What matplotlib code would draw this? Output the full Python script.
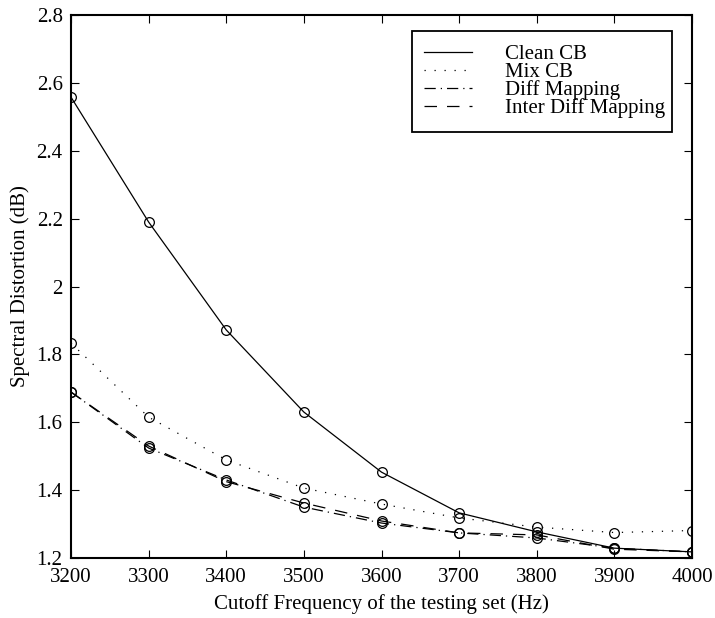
import matplotlib
matplotlib.use("Agg")
import matplotlib.pyplot as plt
from matplotlib.patches import Rectangle

plt.rcParams['font.family'] = ['Liberation Serif', 'DejaVu Serif']

freq = [3200, 3300, 3400, 3500, 3600, 3700, 3800, 3900, 4000]
clean_cb = [2.558, 2.19, 1.872, 1.630, 1.453, 1.333, 1.277, 1.229, 1.218]
mix_cb = [1.833, 1.615, 1.489, 1.406, 1.359, 1.318, 1.291, 1.275, 1.281]
diff_mapping = [1.689, 1.524, 1.430, 1.350, 1.303, 1.274, 1.259, 1.229, 1.218]
inter_diff_mapping = [1.689, 1.530, 1.425, 1.362, 1.309, 1.274, 1.268, 1.226, 1.218]

xticks = [3200, 3300, 3400, 3500, 3600, 3700, 3800, 3900, 4000]
yticks = [1.2, 1.4, 1.6, 1.8, 2.0, 2.2, 2.4, 2.6, 2.8]
ytick_labels = ['1.2', '1.4', '1.6', '1.8', '2', '2.2', '2.4', '2.6', '2.8']

W, H = 715, 618
fig = plt.figure(figsize=(W/100, H/100), dpi=100)
ax = fig.add_axes([71/W, 1 - 558/H, (692-71)/W, (558-15)/H])

lw = 0.9
ls_dot = (0, (1, 7))
ls_dashdot = (0, (9, 4, 1, 4))
ls_dash = (0, (10, 8))
mk = dict(marker='o', markersize=7, markerfacecolor='none', markeredgecolor='black', markeredgewidth=0.9)
ax.plot(freq, clean_cb, color='black', linestyle='-', lw=lw, **mk)
ax.plot(freq, mix_cb, color='black', linestyle=ls_dot, lw=lw, **mk)
ax.plot(freq, diff_mapping, color='black', linestyle=ls_dashdot, lw=lw, **mk)
ax.plot(freq, inter_diff_mapping, color='black', linestyle=ls_dash, lw=lw, **mk)

# legend handles (lines only)
h1, = ax.plot([], [], color='black', linestyle='-', lw=lw)
h2, = ax.plot([], [], color='black', linestyle=ls_dot, lw=lw)
h3, = ax.plot([], [], color='black', linestyle=ls_dashdot, lw=lw)
h4, = ax.plot([], [], color='black', linestyle=ls_dash, lw=lw)
leg = ax.legend([h1, h2, h3, h4], ['Clean CB', 'Mix CB', 'Diff Mapping', 'Inter Diff Mapping'],
                loc='upper left', bbox_to_anchor=(424/W, 1 - 44.5/H), bbox_transform=fig.transFigure,
                fontsize=15, frameon=False, labelspacing=-0.08, handlelength=2.3, handletextpad=1.6,
                borderpad=0, borderaxespad=0)
leg.set_zorder(6)
# legend frame
frame = Rectangle((412/W, 1 - 132/H), (672-412)/W, (132-31)/H,
                  transform=fig.transFigure, fill=True, facecolor='white',
                  edgecolor='black', linewidth=1.3, zorder=5, clip_on=False)
ax.add_patch(frame)

ax.set_xlim(3200, 4000)
ax.set_ylim(1.2, 2.8)
ax.set_xticks(xticks)
ax.set_yticks(yticks)
ax.set_yticklabels(ytick_labels)
ax.tick_params(direction='in', top=True, right=True, length=6, width=0.8, labelsize=15)
ax.tick_params(axis='x', pad=7)
ax.tick_params(axis='y', pad=6)
for s in ax.spines.values():
    s.set_linewidth(1.5)
ax.set_xlabel('Cutoff Frequency of the testing set (Hz)', fontsize=15, labelpad=5)
ax.set_ylabel('Spectral Distortion (dB)', fontsize=15, labelpad=5)

fig.savefig('out.png', dpi=100)
